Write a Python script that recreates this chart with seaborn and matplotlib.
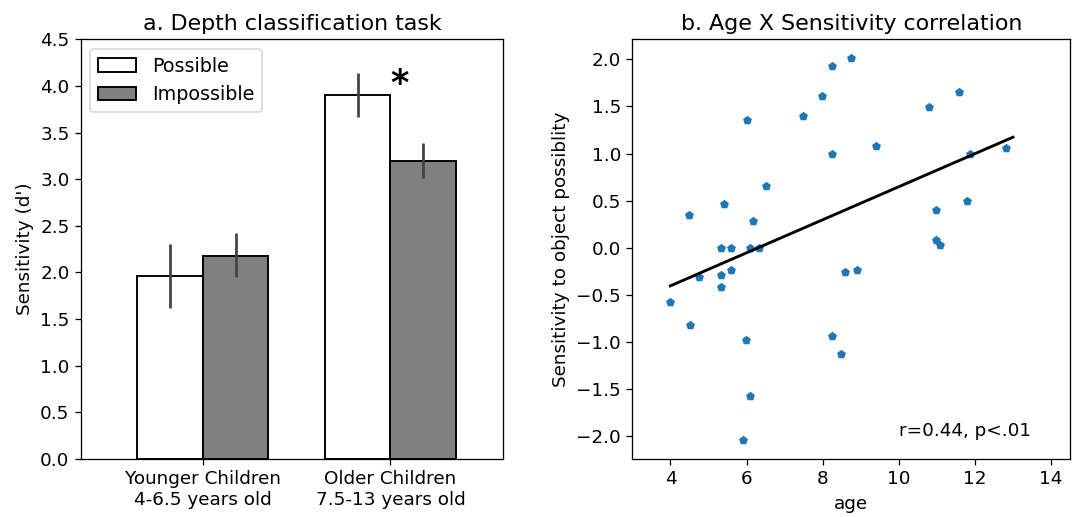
"""Two-panel figure: depth classification bars + age/sensitivity scatter."""
import matplotlib
matplotlib.use("Agg")
import matplotlib.pyplot as plt
import seaborn as sns
import numpy as np
import pandas as pd

# panel a: mean sensitivity with CI bounds
groups = ["Younger Children\n4-6.5 years old", "Older Children\n7.5-13 years old"]
conditions = ["Possible", "Impossible"]
mean_possible = [1.96, 3.90]
mean_impossible = [2.18, 3.20]
ci_low_possible = [1.62, 3.67]
ci_high_possible = [2.30, 4.14]
ci_low_impossible = [1.95, 3.01]
ci_high_impossible = [2.42, 3.39]

# panel b: age vs sensitivity to object possibility
age = [4.50, 5.42, 6.00, 6.50, 6.16, 5.33, 5.58, 6.08, 6.33, 7.49, 7.99, 8.24,
       8.74, 8.24, 9.40, 10.79, 11.59, 11.88, 12.81, 11.78, 10.99, 10.98, 11.08,
       4.00, 4.51, 4.76, 5.33, 5.33, 5.58, 5.99, 6.08, 5.91, 8.24, 8.49, 8.58, 8.90]
sensitivity = [0.35, 0.46, 1.36, 0.65, 0.28, 0.00, 0.00, 0.00, 0.00, 1.40, 1.61, 1.93,
               2.01, 0.99, 1.08, 1.49, 1.65, 0.99, 1.06, 0.50, 0.40, 0.08, 0.03,
               -0.58, -0.82, -0.31, -0.29, -0.42, -0.235, -0.98, -1.57, -2.04, -0.94, -1.13, -0.26, -0.24]
fit_range = [4, 13]

bars = pd.DataFrame({
    "group": groups * 2,
    "condition": [conditions[0]] * 2 + [conditions[1]] * 2,
    "value": mean_possible + mean_impossible,
})
scatter = pd.DataFrame({"age": age, "sens": sensitivity})

plt.rcParams["font.size"] = 11.5

fig = plt.figure(figsize=(1078 / 115, 517 / 115), dpi=115)
ax1 = fig.add_axes([0.0749, 0.1122, 0.3917, 0.8118])
ax2 = fig.add_axes([0.5866, 0.1122, 0.4060, 0.8118])

# bars
sns.barplot(data=bars, x="group", y="value", hue="condition", hue_order=conditions,
            palette=["white", "grey"], edgecolor="black", linewidth=1.2,
            width=0.7, errorbar=None, ax=ax1)
offsets = [-0.175, 0.175]
lows = [ci_low_possible, ci_low_impossible]
highs = [ci_high_possible, ci_high_impossible]
for k in range(2):
    xs = np.arange(len(groups)) + offsets[k]
    ax1.vlines(xs, lows[k], highs[k], color=".26", linewidth=1.7, zorder=3)
ax1.text(1.05, 4.02, "*", fontsize=22, fontweight="bold", ha="center", va="center")
ax1.set_xlim(-0.65, 1.6)
ax1.set_ylim(0, 4.5)
ax1.set_xlabel("")
ax1.set_ylabel("Sensitivity (d')")
ax1.set_title("a. Depth classification task", fontsize=13.9)
ax1.legend(loc="upper left", fontsize=12)

# scatter + fitted line
sns.scatterplot(data=scatter, x="age", y="sens", marker="p", s=34,
                color="#1f77b4", linewidth=0, ax=ax2)
slope, intercept = np.polyfit(age, sensitivity, 1)
fx = np.array(fit_range, dtype=float)
ax2.plot(fx, slope * fx + intercept, color="black", linewidth=1.8)
ax2.text(10, -2.0, "r=0.44, p<.01")
ax2.set_xlim(3, 14.5)
ax2.set_xticks([4, 6, 8, 10, 12, 14])
ax2.set_xlabel("age")
ax2.set_ylabel("Sensitivity to object possiblity")
ax2.set_title("b. Age X Sensitivity correlation", fontsize=13.9)

fig.savefig("out.png", dpi=115)
